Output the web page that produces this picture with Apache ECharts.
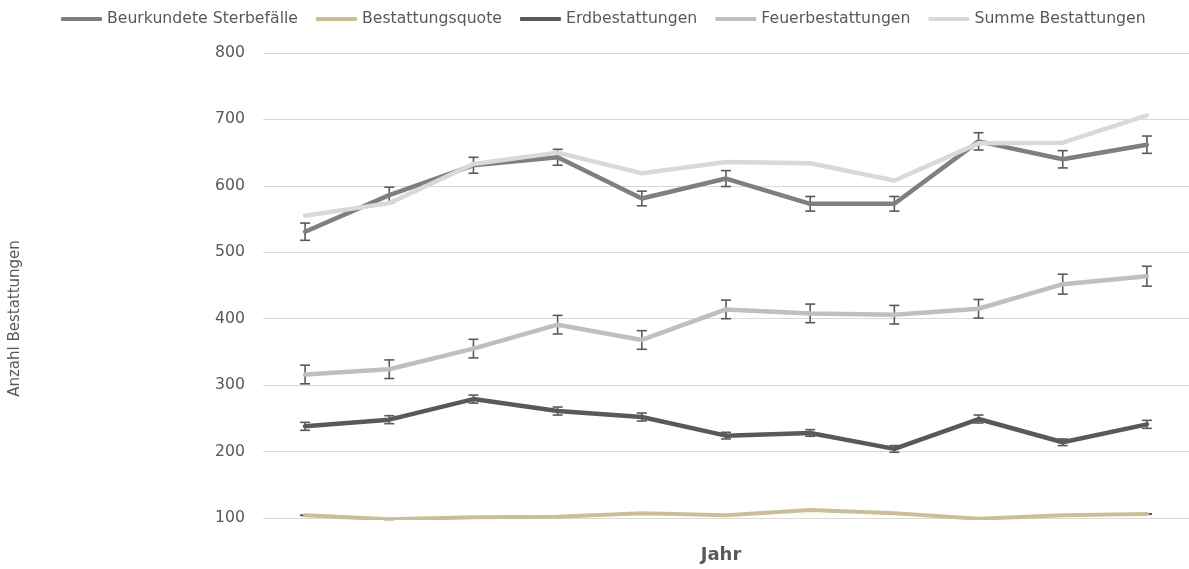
<!DOCTYPE html>
<html>
<head>
<meta charset="utf-8">
<script src="https://cdn.jsdelivr.net/npm/echarts@6/dist/echarts.min.js"></script>
<style>
  html, body { margin: 0; padding: 0; background: #ffffff; }
  #chart { width: 1189px; height: 569px; }
</style>
</head>
<body>
<div id="chart"></div>
<script>
// Year slots along the x axis (labels are not shown on this chart)
const categories = ['1', '2', '3', '4', '5', '6', '7', '8', '9', '10', '11'];

// Series values
const sterbefaelle      = [531, 586, 631, 643, 581, 611, 573, 573, 667, 640, 662];
const bestattungsquote  = [104, 98, 101, 102, 107, 104, 112, 107, 99, 104, 106];
const erdbestattungen   = [238, 248, 279, 261, 252, 224, 228, 204, 249, 214, 241];
const feuerbestattungen = [316, 324, 355, 391, 368, 414, 408, 406, 415, 452, 464];
const summeBestattungen = [555, 574, 633, 650, 619, 636, 634, 608, 664, 665, 706];

// Error bar half-widths (same units as the series)
const errSterbe = [13, 12, 12, 12, 11, 12, 11, 11, 13, 13, 13];
const errQuote  = [0.3, 0.3, 0.3, 0.3, 0.3, 0.3, 0.3, 0.3, 0.3, 0.3, 0.3];
const errErd    = [6, 6, 6, 6, 6, 5, 5, 5, 6, 5, 6];
const errFeuer  = [14, 14, 14, 14, 14, 14, 14, 14, 14, 15, 15];

// Y axis ticks
const yMin = 100, yMax = 800, yStep = 100;

const textColor = '#595959';
const fontFamily = '"DejaVu Sans", "Liberation Sans", sans-serif';

function errorData(values, errs) {
  return values.map((v, i) => [i, v - errs[i], v + errs[i]]);
}

// Vertical whisker with a short cap at each end
function renderErrorBar(params, api) {
  const lo = api.coord([api.value(0), api.value(1)]);
  const hi = api.coord([api.value(0), api.value(2)]);
  const half = 5;
  const style = { stroke: '#5a5a5a', lineWidth: 1.6, fill: null };
  return {
    type: 'group',
    children: [
      { type: 'line', shape: { x1: hi[0], y1: hi[1], x2: lo[0], y2: lo[1] }, style },
      { type: 'line', shape: { x1: hi[0] - half, y1: hi[1], x2: hi[0] + half, y2: hi[1] }, style },
      { type: 'line', shape: { x1: lo[0] - half, y1: lo[1], x2: lo[0] + half, y2: lo[1] }, style }
    ]
  };
}

function lineSeries(name, data, color, width, z) {
  return {
    name, type: 'line', data, z,
    symbol: 'none', smooth: false,
    lineStyle: { color, width, cap: 'round', join: 'round' },
    itemStyle: { color },
    emphasis: { disabled: true }
  };
}

function errSeries(name, values, errs, z) {
  return {
    name, type: 'custom', z,
    data: errorData(values, errs),
    encode: { x: 0, y: [1, 2] },
    renderItem: renderErrorBar,
    silent: true
  };
}

const chart = echarts.init(document.getElementById('chart'), null, { renderer: 'canvas' });

chart.setOption({
  animation: false,
  backgroundColor: '#ffffff',
  textStyle: { fontFamily },
  legend: {
    top: 6,
    left: 56,
    icon: 'roundRect',
    itemWidth: 41,
    itemHeight: 4,
    itemGap: 18,
    textStyle: { color: textColor, fontSize: 15.7, fontFamily },
    data: ['Beurkundete Sterbefälle', 'Bestattungsquote', 'Erdbestattungen', 'Feuerbestattungen', 'Summe Bestattungen']
  },
  grid: { left: 263, top: 53, width: 933, height: 471, containLabel: false },
  xAxis: {
    type: 'category',
    data: categories,
    boundaryGap: true,
    name: 'Jahr',
    nameLocation: 'middle',
    nameGap: 28,
    nameTextStyle: { color: textColor, fontSize: 18, fontWeight: 'bold', fontFamily, padding: [0, 10, 0, 0] },
    axisLine: { show: false },
    axisTick: { show: false },
    axisLabel: { show: false },
    splitLine: { show: false }
  },
  yAxis: {
    type: 'value',
    min: yMin, max: yMax, interval: yStep,
    name: 'Anzahl Bestattungen',
    nameLocation: 'middle',
    nameGap: 240,
    nameRotate: 90,
    nameTextStyle: { color: textColor, fontSize: 15, fontFamily, padding: [0, 66, 0, 0] },
    axisLine: { show: false },
    axisTick: { show: false },
    axisLabel: { color: textColor, fontSize: 15.7, margin: 18, fontFamily },
    splitLine: { lineStyle: { color: '#d9d9d9', width: 1 } }
  },
  series: [
    errSeries('err-sterbe', sterbefaelle, errSterbe, 1),
    errSeries('err-quote', bestattungsquote, errQuote, 1),
    errSeries('err-erd', erdbestattungen, errErd, 1),
    errSeries('err-feuer', feuerbestattungen, errFeuer, 1),
    lineSeries('Beurkundete Sterbefälle', sterbefaelle, '#7f7f7f', 4.5, 2),
    lineSeries('Bestattungsquote', bestattungsquote, '#cbbf91', 4, 3),
    lineSeries('Erdbestattungen', erdbestattungen, '#595959', 4.5, 4),
    lineSeries('Feuerbestattungen', feuerbestattungen, '#bfbfbf', 4.5, 5),
    lineSeries('Summe Bestattungen', summeBestattungen, '#d9d9d9', 4.5, 6)
  ]
});
</script>
</body>
</html>
